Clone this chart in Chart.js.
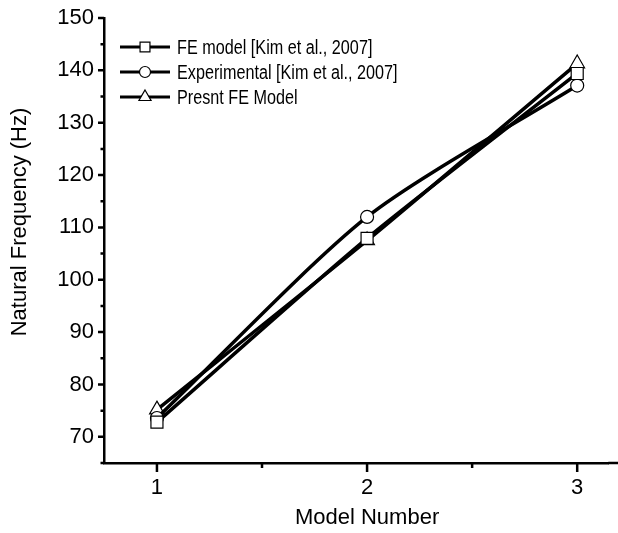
<!DOCTYPE html>
<html>
<head>
<meta charset="utf-8">
<script src="https://cdn.jsdelivr.net/npm/chart.js@4.4.1/dist/chart.umd.min.js"></script>
<style>
  html, body { margin: 0; padding: 0; background: #fff; }
  #wrap { width: 618px; height: 533px; }
</style>
</head>
<body>
<div id="wrap"><canvas id="c" width="618" height="533"></canvas></div>
<script>
// Model numbers along the x axis
const modelNumbers = [1, 2, 3];
// Natural frequencies (Hz)
const feModelKim = [72.8, 107.9, 139.4];
const experimentalKim = [73.6, 112.0, 137.1];
const presentFeModel = [75.2, 107.5, 141.3];

const seriesNames = [
  'FE model [Kim et al., 2007]',
  'Experimental [Kim et al., 2007]',
  'Presnt FE Model'
];
const seriesMarkers = ['rect', 'circle', 'triangle'];

const xTickValues = [1, 2, 3];
const xMinorTickValues = [1.5, 2.5];
const yTickValues = [70, 80, 90, 100, 110, 120, 130, 140, 150];
const yMinorTickValues = [65, 75, 85, 95, 105, 115, 125, 135, 145];

const FONT = 'Arial, "Liberation Sans", sans-serif';
const markerRadius = { rect: 8.5, circle: 6.5, triangle: 8.5 };

function toPoints(values) {
  return modelNumbers.map((x, i) => ({ x: x, y: values[i] }));
}

const allSeries = [feModelKim, experimentalKim, presentFeModel];
const datasets = allSeries.map((vals, i) => ({
  label: seriesNames[i],
  data: toPoints(vals),
  borderColor: '#000',
  borderWidth: 3.5,
  tension: 0.25,
  pointStyle: seriesMarkers[i],
  pointRadius: markerRadius[seriesMarkers[i]],
  pointBackgroundColor: '#fff',
  pointBorderColor: '#000',
  pointBorderWidth: 1.2,
  fill: false
}));

// Outward tick marks (major + minor), the full-width bottom axis and both axis titles
const axisDecor = {
  id: 'axisDecor',
  afterDraw(chart) {
    const ctx = chart.ctx;
    const xs = chart.scales.x, ys = chart.scales.y;
    const area = chart.chartArea;
    const left = area.left, bottom = area.bottom;
    ctx.save();
    ctx.strokeStyle = '#000';
    ctx.lineWidth = 2.5;
    ctx.beginPath();
    // bottom axis runs on to the right edge of the canvas
    ctx.moveTo(area.right, bottom); ctx.lineTo(chart.width, bottom);
    yTickValues.forEach(v => {
      const py = ys.getPixelForValue(v);
      ctx.moveTo(left - 6, py); ctx.lineTo(left, py);
    });
    yMinorTickValues.forEach(v => {
      const py = ys.getPixelForValue(v);
      ctx.moveTo(left - 3.5, py); ctx.lineTo(left, py);
    });
    xTickValues.forEach(v => {
      const px = xs.getPixelForValue(v);
      ctx.moveTo(px, bottom); ctx.lineTo(px, bottom + 9);
    });
    xMinorTickValues.forEach(v => {
      const px = xs.getPixelForValue(v);
      ctx.moveTo(px, bottom); ctx.lineTo(px, bottom + 5);
    });
    ctx.stroke();

    ctx.fillStyle = '#000';
    ctx.font = '22px ' + FONT;
    ctx.textAlign = 'center';
    ctx.textBaseline = 'middle';
    // x axis title, centred under the middle model
    ctx.fillText('Model Number', xs.getPixelForValue(2), 518);
    // y axis title
    ctx.translate(20, 222);
    ctx.rotate(-Math.PI / 2);
    ctx.fillText('Natural Frequency (Hz)', 0, 0);
    ctx.restore();
  }
};

// Legend drawn inside the plot, each entry as line-marker-line
const insideLegend = {
  id: 'insideLegend',
  afterDraw(chart) {
    const ctx = chart.ctx;
    const x0 = 120, x1 = 170, xm = 145, tx = 177;
    const rows = [47, 72, 97];
    ctx.save();
    seriesNames.forEach((name, i) => {
      const y = rows[i];
      ctx.strokeStyle = '#000';
      ctx.lineWidth = 3;
      ctx.beginPath();
      ctx.moveTo(x0, y); ctx.lineTo(x1, y);
      ctx.stroke();
      ctx.fillStyle = '#fff';
      ctx.lineWidth = 1.2;
      Chart.helpers.drawPoint(ctx, {
        pointStyle: seriesMarkers[i],
        radius: seriesMarkers[i] === 'circle' ? 5.5 : 7,
        rotation: 0,
        borderWidth: 1.2
      }, xm, y);
      // condensed legend lettering
      ctx.save();
      ctx.fillStyle = '#000';
      ctx.font = '20px ' + FONT;
      ctx.textBaseline = 'middle';
      ctx.textAlign = 'left';
      ctx.translate(tx, y + 1);
      ctx.scale(0.81, 1);
      ctx.fillText(name, 0, 0);
      ctx.restore();
    });
    ctx.restore();
  }
};

new Chart(document.getElementById('c'), {
  type: 'line',
  data: { datasets: datasets },
  plugins: [axisDecor, insideLegend],
  options: {
    responsive: false,
    animation: false,
    devicePixelRatio: 1,
    layout: { padding: { top: 18, right: 0, left: 0, bottom: 0 } },
    plugins: { legend: { display: false }, tooltip: { enabled: false } },
    scales: {
      x: {
        type: 'linear',
        min: 0.748,
        max: 3.148,
        afterBuildTicks: s => { s.ticks = xTickValues.map(v => ({ value: v })); },
        afterFit: s => { s.height = 70; s.paddingLeft = 0; s.paddingRight = 0; },
        grid: { display: false, drawTicks: false },
        border: { display: true, color: '#000', width: 2.5 },
        ticks: { color: '#000', padding: 12, font: { family: FONT, size: 22 } },
        title: { display: false }
      },
      y: {
        type: 'linear',
        min: 65,
        max: 150,
        afterBuildTicks: s => { s.ticks = yTickValues.map(v => ({ value: v })); },
        afterFit: s => { s.width = 104; s.paddingTop = 0; s.paddingBottom = 0; },
        grid: { display: false, drawTicks: false },
        border: { display: true, color: '#000', width: 2.5 },
        ticks: { color: '#000', padding: 10, font: { family: FONT, size: 22 } },
        title: { display: false }
      }
    }
  }
});
</script>
</body>
</html>
